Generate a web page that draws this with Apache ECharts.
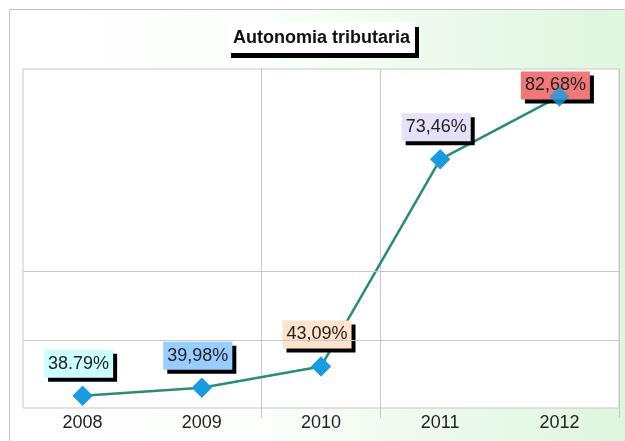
<!DOCTYPE html>
<html>
<head>
<meta charset="utf-8">
<script src="https://cdn.jsdelivr.net/npm/echarts@6/dist/echarts.min.js"></script>
<style>
  html, body { margin: 0; padding: 0; background: #fff; }
  #chart { width: 625px; height: 441px; }
</style>
</head>
<body>
<div id="chart"></div>
<script>
// Autonomia tributaria, 2008-2012 (percent)
const years = ['2008', '2009', '2010', '2011', '2012'];
const autonomia = [38.79, 39.98, 43.09, 73.46, 82.68];
const guideValues = [47, 57];

// label box fills, one per year
const labelFills = ['#ccffff', '#99ccff', '#fde2cc', '#e6e0f8', '#f07878'];

const fmt = v => v.toFixed(2).replace('.', ',') + '%';
const fmtFirst = v => v.toFixed(2) + '%';

const FONT = 'Liberation Sans, Arial, sans-serif';

const chart = echarts.init(document.getElementById('chart'), null, { renderer: 'canvas' });

const labelData = autonomia.map((v, i) => ({
  value: v,
  label: {
    backgroundColor: labelFills[i],
    offset: i === autonomia.length - 1 ? [-4, -11] : [-4, -32],
    formatter: () => (i === 0 ? fmtFirst(v) : fmt(v))
  }
}));

const option = {
  animation: false,
  backgroundColor: '#ffffff',
  graphic: [{
    type: 'rect',
    z: -10,
    shape: { x: 9.5, y: 9.5, width: 640, height: 460 },
    style: {
      fill: new echarts.graphic.LinearGradient(0, 0, 1, 0, [
        { offset: 0, color: '#ffffff' },
        { offset: 0.4, color: '#fbfefb' },
        { offset: 1, color: '#dcf5dc' }
      ]),
      stroke: '#c4c4c4',
      lineWidth: 1
    }
  }],
  title: {
    text: 'Autonomia tributaria',
    left: 227,
    top: 22,
    padding: [7, 5, 6, 6],
    backgroundColor: '#ffffff',
    borderWidth: 0,
    shadowColor: '#000000',
    shadowBlur: 0,
    shadowOffsetX: 4,
    shadowOffsetY: 5,
    textStyle: {
      fontFamily: FONT,
      fontSize: 18,
      fontWeight: 'bold',
      color: '#111111'
    }
  },
  grid: {
    left: 23, right: 6, top: 69, bottom: 33,
    show: true,
    backgroundColor: '#ffffff',
    borderColor: '#c8c8c8',
    borderWidth: 1
  },
  xAxis: {
    type: 'category',
    data: years,
    boundaryGap: true,
    axisLine: { show: false },
    axisTick: {
      show: true,
      interval: i => i === 2 || i === 3,
      length: 10,
      lineStyle: { color: '#c8c8c8' }
    },
    splitLine: {
      show: true,
      interval: i => i === 2 || i === 3,
      lineStyle: { color: '#c8c8c8', width: 1 }
    },
    axisLabel: {
      margin: 6,
      fontFamily: FONT,
      fontSize: 18,
      color: '#222222'
    }
  },
  yAxis: {
    type: 'value',
    min: 37,
    max: 86.7,
    show: false,
    splitLine: { show: false }
  },
  series: [
    {
      type: 'line',
      data: labelData,
      z: 2,
      symbol: 'diamond',
      symbolSize: 20,
      itemStyle: { color: '#1a9be0' },
      lineStyle: { color: '#2b8a78', width: 2.5 },
      label: {
        show: true,
        position: 'inside',
        fontFamily: FONT,
        fontSize: 18,
        color: '#222222',
        padding: [5, 4, 5, 4],
        borderWidth: 0,
        shadowColor: '#000000',
        shadowBlur: 0,
        shadowOffsetX: 4,
        shadowOffsetY: 4
      },
      markLine: {
        silent: true,
        symbol: 'none',
        label: { show: false },
        lineStyle: { color: '#c8c8c8', type: 'solid', width: 1 },
        data: guideValues.map(v => ({ yAxis: v }))
      }
    },
    {
      // markers drawn above the value boxes
      type: 'scatter',
      data: autonomia,
      z: 4,
      symbol: 'diamond',
      symbolSize: 20,
      itemStyle: { color: '#1a9be0' },
      silent: true
    }
  ]
};

chart.setOption(option);
</script>
</body>
</html>
